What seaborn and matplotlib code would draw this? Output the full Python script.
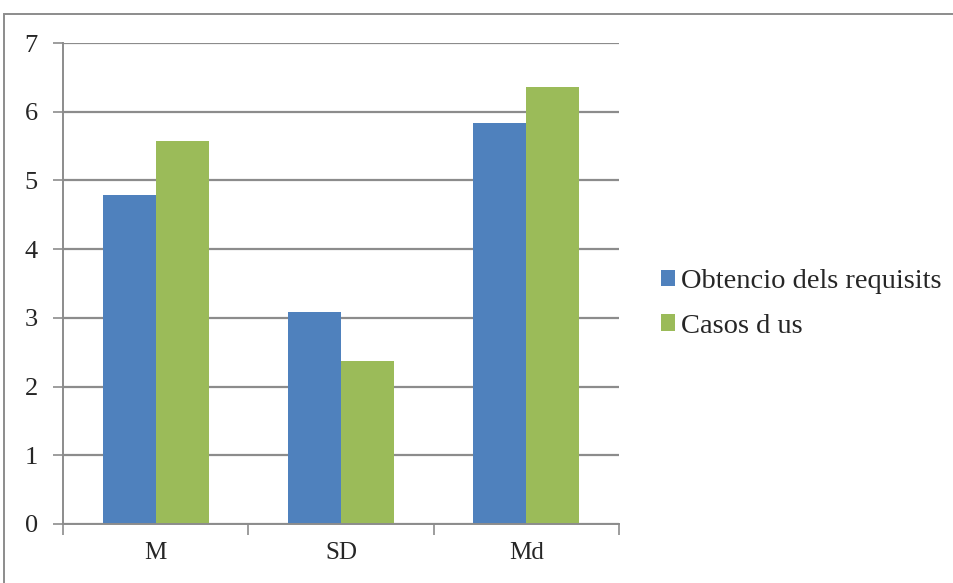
import matplotlib
matplotlib.use("Agg")
import matplotlib.pyplot as plt
import pandas as pd
import seaborn as sns
from matplotlib.patches import Rectangle

categories = ["M", "SD", "Md"]
series_names = ["Obtencio dels requisits", "Casos d us"]
obtencio = [4.79, 3.08, 5.83]
casos = [5.58, 2.37, 6.36]
yticks = [0, 1, 2, 3, 4, 5, 6, 7]
colors = ["#4F81BD", "#9BBB59"]

df = pd.DataFrame({
    "cat": categories * 2,
    "serie": [series_names[0]] * 3 + [series_names[1]] * 3,
    "val": obtencio + casos,
})

sns.set_theme(style="white")
plt.rcParams["font.family"] = ["Liberation Serif", "DejaVu Serif"]

W, H = 954, 583
fig = plt.figure(figsize=(W / 100, H / 100), dpi=100)
ax = fig.add_axes([63 / W, 1 - 524 / H, (619 - 63) / W, (524 - 43) / H])

sns.barplot(data=df, x="cat", y="val", hue="serie", order=categories,
            hue_order=series_names, palette=colors, width=0.572,
            saturation=1, ax=ax, legend=True, edgecolor="none", linewidth=0)

ax.set_xlim(-0.5, 2.5)
ax.set_ylim(0, 7)
ax.set_yticks(yticks)
ax.set_yticklabels([str(v) for v in yticks], fontsize=19)
ax.yaxis.grid(True, color="#8c8c8c", linewidth=1.6)
ax.set_axisbelow(True)
ax.set_xlabel("")
ax.set_ylabel("")

# category boundary ticks on the x axis
ax.set_xticks([-0.5, 0.5, 1.5, 2.5])
ax.set_xticklabels([])
ax.set_xticks([0, 1, 2], minor=True)
ax.set_xticklabels(categories, minor=True, fontsize=18)
ax.tick_params(axis="x", which="major", direction="out", length=8,
               color="#8c8c8c", width=1.2, bottom=True)
ax.tick_params(axis="x", which="minor", length=0, pad=13)
ax.tick_params(axis="y", direction="out", length=7, color="#8c8c8c",
               width=1.2, left=True, pad=11)

for side in ["top", "right"]:
    ax.spines[side].set_visible(False)
for side in ["left", "bottom"]:
    ax.spines[side].set_color("#8c8c8c")
    ax.spines[side].set_linewidth(1.4)

leg = ax.legend(loc="upper left", bbox_to_anchor=(647 / W, 1 - 255 / H),
                bbox_transform=fig.transFigure, frameon=False, fontsize=20.5,
                handlelength=0.5, handleheight=0.5, handletextpad=0.2,
                labelspacing=0.68, borderpad=0)

# chart area frame
fig.patches.append(Rectangle((4 / W, -0.1), 1.2, 1 - 14 / H + 0.1,
                             transform=fig.transFigure, fill=False,
                             edgecolor="#8c8c8c", linewidth=1.4))

fig.savefig("out.png", dpi=100)
